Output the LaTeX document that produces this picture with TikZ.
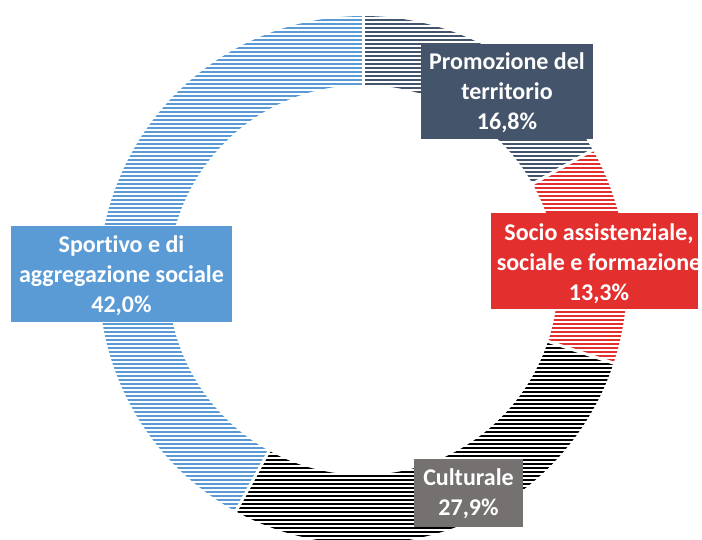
\documentclass[tikz,border=0pt]{standalone}
\usepackage{fontspec}
\setmainfont{Carlito}[Ligatures={NoCommon,NoRare,NoContextual}]
\definecolor{cprom}{HTML}{44546A}
\definecolor{csoc}{HTML}{E3302F}
\definecolor{ccult}{HTML}{000000}
\definecolor{csport}{HTML}{5B9BD5}
\definecolor{ccultbox}{HTML}{767171}
\newcommand\myslice[2]{([shift={(363,260)}]#1:264) arc[start angle=#1,end angle=#2,radius=264] -- ([shift={(363,260)}]#2:195) arc[start angle=#2,end angle=#1,radius=195] -- cycle}
\newcommand\stripes[1]{\foreach \yy in {0,4,...,540} {\draw[line width=2.1pt,#1] (80,\yy) -- (650,\yy);}}
\tikzset{
  labbox/.style={rectangle, inner sep=0pt, draw=none},
  labtxt/.style={text=white, align=center, inner sep=0pt, font=\bfseries\fontsize{24}{30}\selectfont},
  sep/.style={white, line width=3pt}
}
\begin{document}
\begin{tikzpicture}[x=1pt,y=1pt]
\useasboundingbox[fill=white] (0,0) rectangle (702,540);
\coordinate (c) at (363,260);
% slices
\begin{scope}\clip \myslice{90}{29.52}; \stripes{cprom} \end{scope}
\begin{scope}\clip \myslice{29.52}{-18.36}; \stripes{csoc} \end{scope}
\begin{scope}\clip \myslice{-18.36}{-118.8}; \stripes{ccult} \end{scope}
\begin{scope}\clip \myslice{-118.8}{-270}; \stripes{csport} \end{scope}
% separators
\foreach \a in {90,29.52,-18.36,-118.8} {\draw[sep] ([shift={(c)}]\a:190) -- ([shift={(c)}]\a:270);}
% labels
\node[labbox, fill=cprom, minimum width=172pt, minimum height=95pt] (pbox) at (507,448.5) {};
\node[labtxt] (ptxt) at (507,447) {Promozione del\\territorio\\16,8\%};
\node[labbox, fill=csoc, minimum width=207pt, minimum height=96pt] (sbox) at (594.5,279) {};
\node[labtxt] (stxt) at (599,276) {Socio assistenziale,\\sociale e formazione\\13,3\%};
\node[labbox, fill=csport, minimum width=221pt, minimum height=96pt] (spbox) at (121.5,266) {};
\node[labtxt] (sptxt) at (121.5,264) {Sportivo e di\\aggregazione sociale\\42,0\%};
\node[labbox, fill=ccultbox, minimum width=109pt, minimum height=68pt] (cbox) at (468.5,47) {};
\node[labtxt] (ctxt) at (468.5,46) {Culturale\\27,9\%};
\end{tikzpicture}
\end{document}
